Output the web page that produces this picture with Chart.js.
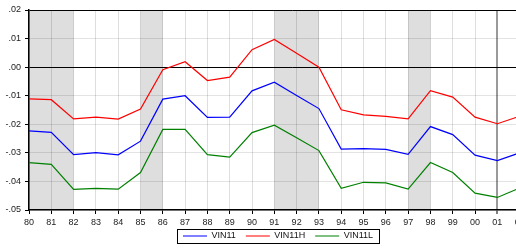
<!DOCTYPE html>
<html>
<head>
<meta charset="utf-8">
<script src="https://cdn.jsdelivr.net/npm/chart.js@4/dist/chart.umd.min.js"></script>
<style>
html, body { margin: 0; padding: 0; overflow: hidden; background: #fff; width: 516px; height: 248px; }
#wrap { width: 556px; height: 256px; position: relative; }
</style>
</head>
<body>
<div id="wrap"><canvas id="c" width="556" height="256"></canvas></div>
<script>
// Years (x categories)
const years = [1980,1981,1982,1983,1984,1985,1986,1987,1988,1989,1990,1991,1992,1993,1994,1995,1996,1997,1998,1999,2000,2001,2002];
// Series values
const vin11  = [-0.0223,-0.0228,-0.0306,-0.0299,-0.0307,-0.0259,-0.0112,-0.0100,-0.0176,-0.0175,-0.0083,-0.0053,-0.0099,-0.0145,-0.0287,-0.0285,-0.0288,-0.0305,-0.0208,-0.0236,-0.0308,-0.0327,-0.0300];
const vin11H = [-0.0111,-0.0114,-0.0181,-0.0175,-0.0182,-0.0147,-0.0009,0.0019,-0.0047,-0.0035,0.0061,0.0097,0.0049,0.0000,-0.0149,-0.0167,-0.0172,-0.0181,-0.0082,-0.0105,-0.0175,-0.0198,-0.0172];
const vin11L = [-0.0334,-0.0340,-0.0428,-0.0424,-0.0427,-0.0369,-0.0218,-0.0218,-0.0306,-0.0315,-0.0229,-0.0203,-0.0247,-0.0292,-0.0424,-0.0403,-0.0405,-0.0427,-0.0334,-0.0369,-0.0441,-0.0456,-0.0423];
// Shaded periods [start, end]
const bands = [[1980,1982],[1985,1986],[1991,1993],[1997,1998]];
// Highlighted year (darker vertical line)
const markYear = 2001;
// Y tick range
const yMin = -0.05, yMax = 0.02, yStep = 0.01;

const toXY = arr => arr.map((v, i) => ({x: years[i], y: v}));

const bandPlugin = {
  id: 'bands',
  afterLayout(chart) {
    // nudge legend up so it sits just under the x tick labels
    const lg = chart.legend;
    if (lg) { lg.top -= 5.5; lg.bottom -= 5.5; }
  },
  beforeDraw(chart) {
    const {ctx, chartArea, scales} = chart;
    ctx.save();
    ctx.beginPath();
    ctx.rect(chartArea.left, chartArea.top, chartArea.right - chartArea.left, chartArea.bottom - chartArea.top);
    ctx.clip();
    ctx.fillStyle = '#dedede';
    bands.forEach(([a, b]) => {
      const x0 = scales.x.getPixelForValue(a);
      const x1 = scales.x.getPixelForValue(b);
      ctx.fillRect(x0, chartArea.top, x1 - x0, chartArea.bottom - chartArea.top);
    });
    ctx.restore();
  }
};

const legendBoxPlugin = {
  id: 'legendBox',
  afterDraw(chart) {
    const lg = chart.legend;
    if (!lg || !lg.legendHitBoxes || !lg.legendHitBoxes.length) return;
    const hb = lg.legendHitBoxes;
    let l = Infinity, r = -Infinity, t = Infinity;
    hb.forEach(h => { l = Math.min(l, h.left); r = Math.max(r, h.left + h.width); t = Math.min(t, h.top); });
    const cy = t + hb[0].height / 2;
    const ctx = chart.ctx;
    ctx.save();
    ctx.strokeStyle = '#000';
    ctx.lineWidth = 1;
    const x0 = Math.round(l - 6) + 0.5, x1 = Math.round(r + 6) + 0.5;
    const y0 = Math.round(cy - 7) + 0.5, y1 = Math.round(cy + 7) + 0.5;
    ctx.strokeRect(x0, y0, x1 - x0, y1 - y0);
    ctx.restore();
  }
};

const FONT = {family: "'Liberation Sans', Arial, sans-serif", size: 9};

new Chart(document.getElementById('c'), {
  type: 'line',
  data: {
    datasets: [
      {label: 'VIN11',  data: toXY(vin11),  borderColor: '#0000ff', backgroundColor: '#0000ff', borderWidth: 1.2, pointRadius: 0, tension: 0, fill: false},
      {label: 'VIN11H', data: toXY(vin11H), borderColor: '#ff0000', backgroundColor: '#ff0000', borderWidth: 1.2, pointRadius: 0, tension: 0, fill: false},
      {label: 'VIN11L', data: toXY(vin11L), borderColor: '#008000', backgroundColor: '#008000', borderWidth: 1.2, pointRadius: 0, tension: 0, fill: false}
    ]
  },
  options: {
    responsive: false,
    animation: false,
    events: [],
    layout: {padding: {top: 10, left: 0, right: 0, bottom: 0}},
    plugins: {
      legend: {
        position: 'bottom',
        labels: {
          font: FONT,
          color: '#111',
          usePointStyle: true,
          pointStyle: 'line',
          pointStyleWidth: 24,
          padding: 10
        }
      },
      tooltip: {enabled: false}
    },
    scales: {
      x: {
        type: 'linear',
        min: 1980,
        max: 2003.63,
        afterFit(s) { s.height = 17; },
        ticks: {
          stepSize: 1,
          includeBounds: false,
          autoSkip: false,
          maxRotation: 0,
          padding: 3,
          font: FONT,
          color: '#222',
          callback: v => String(Math.round(v) % 100).padStart(2, '0')
        },
        grid: {
          color: c => (c.tick && Math.round(c.tick.value) === markYear) ? '#9a9a9a' : 'rgba(0,0,0,0.13)',
          lineWidth: c => (c.tick && Math.round(c.tick.value) === markYear) ? 2 : 1,
          tickColor: '#000',
          tickLength: 4,
          tickWidth: 1
        },
        border: {display: true, color: '#000', width: 1.5}
      },
      y: {
        min: yMin,
        max: yMax,
        afterFit(s) { s.width = 29; },
        ticks: {
          stepSize: yStep,
          padding: 4,
          font: FONT,
          color: '#222',
          callback: v => {
            const r = Math.round(v * 100);
            return (r < 0 ? '-' : '') + '.' + String(Math.abs(r)).padStart(2, '0');
          }
        },
        grid: {
          color: c => {
            const r = c.tick ? Math.round(c.tick.value * 100) : 1;
            return (r === 0 || r === 2) ? '#000' : 'rgba(0,0,0,0.11)';
          },
          lineWidth: 1,
          tickColor: '#000',
          tickLength: 4,
          tickWidth: 1
        },
        border: {display: true, color: '#000', width: 1.5}
      }
    }
  },
  plugins: [bandPlugin, legendBoxPlugin]
});
</script>
</body>
</html>
